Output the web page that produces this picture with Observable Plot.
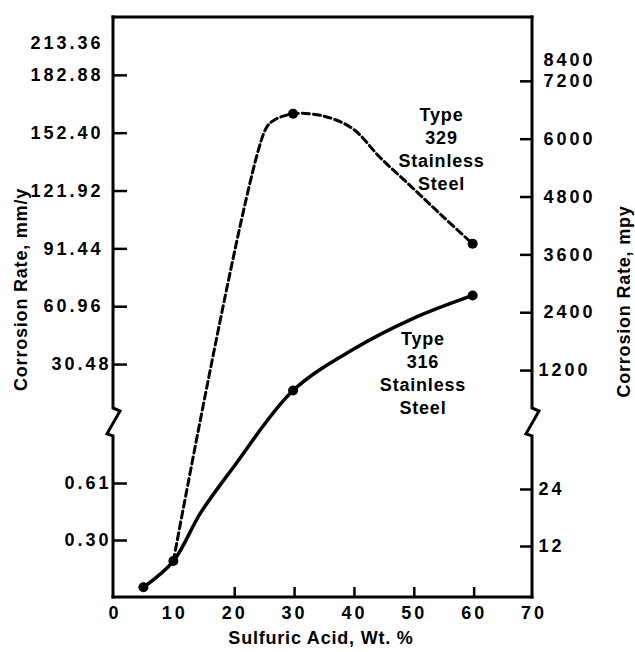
<!DOCTYPE html>
<html>
<head>
<meta charset="utf-8">
<script src="https://cdn.jsdelivr.net/npm/d3@7"></script>
<script src="https://cdn.jsdelivr.net/npm/@observablehq/plot@0.6"></script>
<style>
  html, body { margin: 0; padding: 0; background: #fff; overflow: hidden; }
  #chart svg text { font-weight: bold; }
  #chart g[aria-label$="tick label"] text { letter-spacing: 3px; }
  #chart g[aria-label="text"] text { letter-spacing: 0.8px; }
</style>
</head>
<body>
<div id="chart"></div>
<script>
// Measured points: sulfuric acid concentration (wt. %) and corrosion rate (mm/y)
const acid316 = [5, 10, 30, 60];
const rate316 = [0.055, 0.195, 16.8, 66.9];
const acid329 = [30, 60];
const rate329 = [162.6, 94.1];

// Smooth curves traced through the measurements
const curve316Acid = [5, 10, 14.5, 20, 30, 40, 50, 60];
const curve316Rate = [0.055, 0.195, 0.45, 0.695, 16.8, 38.4, 54.7, 66.9];
const curve329Acid = [10, 25.3, 26.7, 30, 35, 40, 44.5, 50, 55, 60];
const curve329Rate = [0.195, 153.8, 159, 162.6, 161.5, 154.7, 139.7, 123.5, 108.6, 94.1];

// Series labels
const seriesLabels = ["Type\n329\nStainless\nSteel", "Type\n316\nStainless\nSteel"];

// Axis ticks
const acidTicks = [0, 10, 20, 30, 40, 50, 60, 70];
const mmTicks = [0.3048, 0.6096, 30.48, 60.96, 91.44, 121.92, 152.40, 182.88, 213.36];
const mmLabels = ["0.30", "0.61", "30.48", "60.96", "91.44", "121.92", "152.40", "182.88", "213.36"];
const mpyTicks = [12, 24, 1200, 2400, 3600, 4800, 6000, 7200, 8400];

const xTitle = "Sulfuric Acid, Wt. %";
const yLeftTitle = "Corrosion Rate, mm/y";
const yRightTitle = "Corrosion Rate, mpy";

const MM_PER_MIL = 0.0254;
const toMM = (mpy) => mpy * MM_PER_MIL;
const mmFormat = new Map(mmTicks.map((v, i) => [v, mmLabels[i]]));

// Broken y axis: the low range 0–0.91 mm/y is stretched below the
// high range 1–213.36 mm/y; brk() maps a rate onto that stacked axis.
const LOW_TOP = 0.91, HIGH_BASE = 1, RATE_MAX = 213.36;
const LOW_K = 187, HIGH_START = 177, AXIS_MAX = 580;
const HIGH_K = (AXIS_MAX - HIGH_START) / (RATE_MAX - HIGH_BASE);
function brk(v) {
  if (v <= LOW_TOP) return v * LOW_K;
  if (v >= HIGH_BASE) return HIGH_START + (v - HIGH_BASE) * HIGH_K;
  return LOW_TOP * LOW_K + (v - LOW_TOP) / (HIGH_BASE - LOW_TOP) * (HIGH_START - LOW_TOP * LOW_K);
}
const unbrk = new Map();
const mmPos = mmTicks.map((v) => { const p = brk(v); unbrk.set(p, mmFormat.get(v)); return p; });
const mpyPos = mpyTicks.map((v) => { const p = brk(toMM(v)); unbrk.set("r" + p, String(v)); return p; });
const fmtLeft = (p) => unbrk.get(p);
const fmtRight = (p) => unbrk.get("r" + p);

const rows = (xs, ys) => xs.map((a, i) => ({acid: a, rate: ys[i]}));
const Y = (d) => brk(d.rate);

// Frame with zig-zag break marks on both vertical axes
function brokenFrame(index, scales) {
  const {x, y} = scales;
  const g = d3.create("svg:g")
    .attr("fill", "none")
    .attr("stroke", "#000")
    .attr("stroke-width", 3)
    .attr("stroke-linecap", "square")
    .attr("stroke-linejoin", "miter");
  const x0 = x(0), x1 = x(70);
  const yTop = y(AXIS_MAX), yBottom = y(0);
  const hi = y(brk(HIGH_BASE)) - 12, lo = y(brk(LOW_TOP)) + 9;
  const side = (xs) => `M${xs},${yTop}V${hi}L${xs + 7},${hi + 3}L${xs - 6},${lo - 2}L${xs},${lo}V${yBottom}`;
  g.append("path").attr("d", `M${x0},${yTop}H${x1}`);
  g.append("path").attr("d", `M${x0},${yBottom}H${x1}`);
  g.append("path").attr("d", side(x0));
  g.append("path").attr("d", side(x1));
  return g.node();
}

const axisFont = {fontSize: 18, fontWeight: "bold"};
const tickStyle = {stroke: "#000", strokeWidth: 2.5};

const chart = Plot.plot({
  width: 635,
  height: 652,
  marginLeft: 113,
  marginRight: 103,
  marginTop: 17,
  marginBottom: 55,
  style: {fontFamily: "'Liberation Sans', Arial, Helvetica, sans-serif", fontSize: "18px", color: "#000", background: "#fff"},
  x: {domain: [0, 70]},
  y: {domain: [0, AXIS_MAX]},
  marks: [
    // x axis: inward ticks at 20–60, labels everywhere
    Plot.axisX({ticks: [0, 10, 70], anchor: "bottom", tickSize: 0, tickPadding: 9, dx: 1.5, label: null, ...axisFont}),
    Plot.axisX({ticks: acidTicks.slice(2, 7), anchor: "bottom", tickSize: -10, tickPadding: 19, dx: 1.5, label: null, ...axisFont, ...tickStyle}),

    // left axis (mm/y) with inward ticks
    Plot.axisY({ticks: mmPos.slice(0, 3), anchor: "left", tickSize: -14, tickPadding: 16, tickFormat: fmtLeft, label: null, ...axisFont, ...tickStyle}),
    Plot.axisY({ticks: mmPos.slice(3, 8), anchor: "left", tickSize: -14, tickPadding: 24, tickFormat: fmtLeft, label: null, ...axisFont, ...tickStyle}),
    Plot.axisY({ticks: mmPos.slice(8), anchor: "left", tickSize: 0, tickPadding: 10, dy: 26, tickFormat: fmtLeft, label: null, ...axisFont}),

    // right axis (mpy) with inward ticks
    Plot.axisY({ticks: mpyPos.slice(0, 3), anchor: "right", tickSize: -13, tickPadding: 19, dy: 6, tickFormat: fmtRight, label: null, ...axisFont, ...tickStyle}),
    Plot.axisY({ticks: mpyPos.slice(3, 8), anchor: "right", tickSize: -13, tickPadding: 24, dy: 6, tickFormat: fmtRight, label: null, ...axisFont, ...tickStyle}),
    Plot.axisY({ticks: mpyPos.slice(8), anchor: "right", tickSize: 0, tickPadding: 11, dy: 43, tickFormat: fmtRight, label: null, ...axisFont}),

    // axis titles
    Plot.text([yLeftTitle], {frameAnchor: "left", textAnchor: "middle", rotate: -90, dx: -92, dy: -18, fill: "#000", ...axisFont}),
    Plot.text([yRightTitle], {frameAnchor: "right", textAnchor: "middle", rotate: -90, dx: 92, dy: -6, fill: "#000", ...axisFont}),
    Plot.text([xTitle], {frameAnchor: "bottom", textAnchor: "middle", dx: -2, dy: 46, fill: "#000", ...axisFont}),

    // curves
    Plot.line(rows(curve329Acid, curve329Rate), {x: "acid", y: Y, curve: "catmull-rom", stroke: "#000", strokeWidth: 3, strokeDasharray: "7,4"}),
    Plot.line(rows(curve316Acid, curve316Rate), {x: "acid", y: Y, curve: "catmull-rom", stroke: "#000", strokeWidth: 3.5}),
    Plot.dot(rows(acid316, rate316), {x: "acid", y: Y, r: 5, fill: "#000", stroke: null}),
    Plot.dot(rows(acid329, rate329), {x: "acid", y: Y, r: 5, fill: "#000", stroke: null}),

    // series labels
    Plot.text([seriesLabels[0]], {x: 54.8, y: brk(144.6), lineHeight: 1.28, fill: "#000", ...axisFont}),
    Plot.text([seriesLabels[1]], {x: 51.7, y: brk(26.3), lineHeight: 1.28, fill: "#000", ...axisFont}),

    brokenFrame
  ]
});

document.getElementById("chart").appendChild(chart);
</script>
</body>
</html>
